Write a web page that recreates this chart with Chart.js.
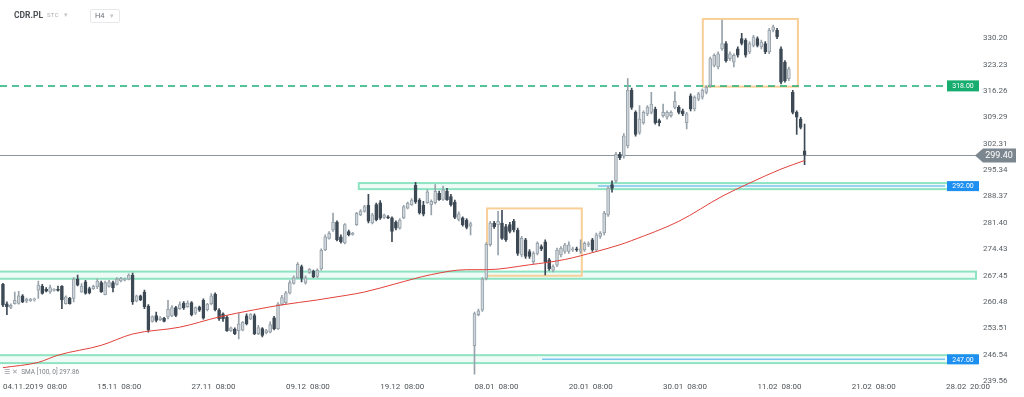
<!DOCTYPE html>
<html>
<head>
<meta charset="utf-8">
<script src="https://cdn.jsdelivr.net/npm/chart.js@4.4.1/dist/chart.umd.min.js"></script>
<style>
  html, body { margin: 0; padding: 0; background: #fff; }
  #wrap { position: relative; width: 1024px; height: 397px; font-family: Roboto, 'Noto Sans', sans-serif; overflow: hidden; }
  #chart { position: absolute; left: 0; top: 0; }
  .sym { position: absolute; left: 14px; top: 10px; font-size: 8.5px; font-weight: bold; color: #4b4f54; }
  .mkt { position: absolute; left: 47px; top: 11px; font-size: 6px; color: #a9adb1; letter-spacing: 0.3px; }
  .mkt span, .tf span { color: #c3c7cb; font-size: 7px; margin-left: 5px; }
  .tf { position: absolute; left: 90px; top: 9px; width: 24px; height: 12px; border: 1px solid #e6e8ea; border-radius: 2px;
        font-size: 7.5px; color: #6b7075; line-height: 12px; padding-left: 4px; box-sizing: content-box; }
  .sma { position: absolute; left: 4px; top: 368px; font-size: 6.5px; color: #7d8287; }
  .sma .ic { color: #9a9ea3; margin-right: 2px; }
</style>
</head>
<body>
<div id="wrap">
  <canvas id="chart" width="1024" height="397"></canvas>
  <div class="sym">CDR.PL</div>
  <div class="mkt">STC<span>▾</span></div>
  <div class="tf">H4<span>▾</span></div>
  <div class="sma"><span class="ic">☰ ✕</span> SMA [100, 0] 297.86</div>
</div>
<script>
// Świece H4 (open / high / low / close), indeks = numer świecy
const opens = [
  265.1, 260.0, 259.0, 260.0, 260.1, 262.1, 260.7, 260.8, 261.0, 263.6,
  264.7, 263.8, 263.1, 263.5, 263.8, 264.6, 260.0, 261.5, 261.4, 266.5,
  263.1, 265.8, 264.0, 264.0, 264.5, 265.6, 262.4, 264.6, 265.6, 265.1,
  266.0, 266.2, 266.5, 267.6, 260.7, 262.1, 263.1, 259.4, 255.3, 256.9,
  255.8, 256.2, 256.5, 256.8, 259.0, 258.7, 260.2, 259.2, 260.3, 257.5,
  259.1, 260.9, 258.4, 260.0, 262.5, 258.3, 257.3, 256.4, 252.9, 253.3,
  252.9, 253.0, 256.8, 256.0, 256.9, 252.1, 253.4, 252.3, 252.5, 256.3,
  253.4, 259.8, 260.3, 262.8, 265.4, 266.9, 269.8, 265.5, 268.3, 268.6,
  267.2, 269.2, 274.2, 277.3, 279.5, 281.6, 277.7, 276.1, 279.1, 278.3,
  280.9, 283.5, 284.4, 286.0, 281.4, 286.2, 286.7, 282.8, 283.0, 282.7,
  281.6, 280.0, 282.7, 285.3, 286.2, 291.3, 287.4, 286.0, 286.7, 286.2,
  286.7, 289.2, 287.6, 289.7, 288.3, 286.9, 282.3, 282.7, 282.1, 280.5,
  248.9, 257.1, 258.3, 266.7, 275.6, 281.3, 280.9, 281.3, 280.4, 280.9,
  281.8, 279.5, 272.9, 276.9, 273.8, 271.1, 273.3, 275.1, 276.4, 271.6,
  268.9, 270.2, 272.9, 273.8, 273.8, 274.2, 274.5, 273.8, 274.2, 275.6,
  276.9, 274.2, 277.8, 278.7, 283.5, 291.5, 292.4, 299.5, 299.0, 301.7,
  316.4, 310.6, 305.3, 307.9, 310.2, 310.6, 311.5, 308.4, 309.7, 309.3,
  309.7, 311.9, 311.9, 311.0, 307.9, 315.0, 311.5, 314.1, 314.6, 315.9,
  317.7, 323.0, 322.6, 327.4, 328.8, 324.8, 323.9, 327.4, 330.1, 329.7,
  326.6, 328.3, 330.1, 327.9, 328.8, 326.6, 332.3, 332.3, 327.4, 323.9,
  319.5, 315.9, 310.6, 308.8, 300.4
];
const highs = [
  265.4, 260.5, 260.0, 263.1, 263.3, 262.4, 261.5, 261.4, 261.5, 266.0,
  265.1, 264.3, 264.9, 264.0, 264.7, 264.8, 262.1, 261.7, 266.9, 267.6,
  265.3, 266.2, 264.4, 264.9, 266.5, 266.0, 266.0, 266.2, 266.0, 266.9,
  267.0, 266.8, 267.9, 268.1, 262.3, 262.3, 263.6, 259.8, 256.8, 257.8,
  256.6, 256.4, 260.9, 259.5, 259.3, 260.5, 260.6, 260.8, 260.6, 259.2,
  259.4, 261.3, 260.1, 262.7, 262.9, 258.7, 257.6, 256.9, 253.8, 253.6,
  257.4, 255.3, 257.3, 257.4, 257.3, 254.3, 253.7, 253.2, 255.2, 256.7,
  260.3, 262.2, 263.3, 266.1, 267.4, 270.9, 270.2, 267.4, 269.3, 268.9,
  269.2, 274.5, 278.2, 279.1, 284.0, 281.9, 278.2, 281.2, 279.5, 278.9,
  284.2, 284.9, 286.0, 288.9, 283.9, 286.6, 287.3, 283.7, 283.3, 283.0,
  281.9, 282.5, 286.0, 286.9, 287.8, 292.1, 287.8, 287.1, 290.1, 287.5,
  291.5, 289.8, 291.1, 290.5, 288.9, 287.4, 284.3, 283.0, 282.5, 281.6,
  257.8, 258.6, 266.9, 276.2, 281.8, 281.8, 284.4, 284.7, 281.0, 281.5,
  282.3, 280.0, 277.8, 277.3, 274.3, 273.8, 276.4, 275.6, 276.9, 272.0,
  270.3, 274.7, 275.1, 276.0, 276.4, 275.0, 275.0, 276.9, 276.4, 276.4,
  277.3, 278.7, 279.1, 284.4, 291.0, 292.5, 300.0, 300.0, 305.0, 319.5,
  317.0, 311.0, 312.4, 311.0, 312.4, 315.9, 312.0, 308.8, 312.8, 311.0,
  311.0, 316.0, 312.4, 311.5, 310.6, 315.5, 315.0, 315.9, 316.8, 317.7,
  325.2, 326.1, 326.6, 335.0, 329.3, 326.6, 326.1, 327.9, 331.5, 330.1,
  329.3, 331.0, 330.6, 329.7, 329.3, 332.8, 333.7, 332.8, 327.9, 324.3,
  322.6, 316.4, 311.0, 309.3, 307.5
];
const lows = [
  259.2, 257.1, 258.7, 259.9, 259.9, 260.3, 260.3, 260.6, 260.7, 261.4,
  262.5, 263.1, 262.7, 263.3, 263.3, 258.7, 259.9, 259.9, 260.5, 264.7,
  263.0, 262.5, 262.6, 263.8, 264.0, 263.0, 262.3, 264.4, 263.1, 264.9,
  265.8, 266.0, 266.3, 259.8, 260.5, 260.8, 258.7, 252.5, 255.1, 255.2,
  255.5, 255.2, 256.0, 256.6, 256.6, 258.5, 258.5, 259.0, 256.8, 257.2,
  258.0, 255.9, 258.1, 259.7, 258.1, 255.6, 255.3, 252.7, 252.7, 251.8,
  250.7, 252.8, 254.4, 255.8, 251.8, 251.8, 251.2, 252.0, 252.3, 253.1,
  253.2, 259.6, 260.0, 262.6, 265.2, 266.7, 265.8, 265.2, 268.0, 266.9,
  266.9, 268.9, 274.0, 277.1, 279.1, 276.6, 276.0, 275.8, 277.9, 278.1,
  280.7, 283.3, 284.2, 281.4, 281.1, 281.9, 282.3, 282.5, 282.5, 276.4,
  279.5, 279.7, 282.5, 285.1, 286.0, 286.5, 283.7, 283.2, 286.5, 283.5,
  286.4, 287.3, 287.3, 287.3, 285.8, 282.5, 281.9, 280.5, 279.8, 278.2,
  241.4, 256.8, 258.0, 266.3, 275.2, 279.9, 272.9, 277.0, 276.5, 278.7,
  279.0, 272.8, 272.4, 272.0, 272.0, 270.6, 272.9, 274.0, 267.6, 268.8,
  268.4, 269.8, 272.4, 273.3, 273.3, 273.8, 273.8, 273.3, 273.8, 275.1,
  273.8, 273.8, 277.3, 278.2, 283.1, 289.5, 292.0, 298.1, 298.5, 301.2,
  311.4, 304.3, 304.8, 307.5, 309.7, 310.2, 307.5, 307.0, 309.3, 308.8,
  309.3, 311.5, 310.2, 309.7, 306.2, 311.0, 311.0, 313.7, 314.1, 315.5,
  317.2, 322.6, 322.1, 327.0, 323.9, 324.3, 322.6, 325.2, 328.4, 325.2,
  326.1, 327.9, 327.9, 327.4, 326.1, 326.1, 331.9, 330.1, 318.1, 318.6,
  319.0, 310.2, 304.8, 306.2, 296.8
];
const closes = [
  259.6, 259.2, 259.6, 260.9, 262.1, 260.5, 261.2, 261.2, 261.3, 264.9,
  262.7, 263.3, 264.3, 263.8, 263.5, 261.0, 261.8, 260.0, 266.5, 264.9,
  264.7, 262.7, 262.9, 264.6, 266.0, 263.1, 265.6, 265.8, 264.2, 266.5,
  266.7, 266.5, 267.6, 260.5, 262.1, 261.0, 259.2, 253.0, 256.6, 255.6,
  256.3, 255.3, 258.5, 259.0, 256.9, 259.8, 258.9, 260.2, 257.1, 259.0,
  258.3, 256.2, 259.9, 262.1, 258.4, 256.0, 256.0, 252.9, 253.6, 252.1,
  254.7, 255.1, 254.7, 257.2, 252.1, 253.7, 251.6, 252.9, 254.5, 253.4,
  259.9, 261.6, 262.9, 265.6, 266.9, 270.4, 266.7, 266.9, 269.1, 267.1,
  268.8, 274.1, 277.7, 278.6, 281.6, 276.9, 276.4, 280.9, 278.2, 278.7,
  283.9, 284.5, 285.7, 281.8, 283.5, 282.2, 282.6, 283.5, 282.7, 279.1,
  280.0, 282.1, 285.7, 286.6, 287.4, 286.9, 284.1, 283.7, 289.6, 287.1,
  289.7, 287.5, 290.1, 287.5, 286.2, 282.8, 283.8, 280.9, 280.2, 281.2,
  257.4, 258.1, 266.5, 275.7, 281.3, 280.4, 281.8, 277.3, 276.9, 279.1,
  279.5, 273.3, 277.3, 272.5, 272.5, 273.3, 276.0, 274.5, 271.1, 269.3,
  269.8, 274.2, 274.7, 275.6, 275.6, 274.5, 274.2, 274.5, 276.0, 275.9,
  274.2, 278.2, 278.7, 284.0, 290.6, 290.5, 299.5, 298.6, 304.4, 316.4,
  311.9, 304.8, 308.8, 310.6, 312.0, 312.8, 307.9, 307.9, 310.6, 310.6,
  310.6, 313.5, 310.6, 310.2, 310.2, 311.5, 314.6, 315.5, 316.4, 317.2,
  324.8, 325.7, 326.1, 328.8, 324.3, 326.1, 325.7, 325.7, 328.8, 325.7,
  328.8, 330.5, 328.3, 329.2, 326.6, 332.3, 333.2, 330.6, 318.6, 319.0,
  322.1, 310.6, 309.3, 306.6, 299.4
];

const smaIdx = [0, 9, 14, 25, 33, 45, 55, 64, 71, 80, 83, 92, 100, 109, 118, 123, 134, 143, 151, 157, 160, 172, 183, 190, 198, 204];
const smaVal = [243.1, 244.5, 246.4, 249.0, 252.0, 253.8, 256.5, 258.4, 259.7, 261.0, 261.5, 263.1, 265.3, 267.7, 269.0, 269.0, 270.3, 271.7, 273.8, 275.6, 276.7, 281.8, 288.4, 291.9, 295.6, 297.86];

// Osie
const xTickIdx = [0, 24, 48, 72, 96, 120, 144, 168, 192, 216, 240];
const xTickText = ['04.11.2019  08:00', '15.11  08:00', '27.11  08:00', '09.12  08:00', '19.12  08:00',
  '08.01  08:00', '20.01  08:00', '30.01  08:00', '11.02  08:00', '21.02  08:00', '28.02  20:00'];
const yTickText = ['239.56', '246.54', '253.51', '260.48', '267.45', '274.43', '281.40',
  '288.37', '295.34', '302.31', '309.29', '316.26', '323.23', '330.20'];

// Strefy (dolna cena, górna cena, od świecy)
const zoneLow = [290.3, 266.6, 244.3];
const zoneHigh = [291.9, 268.5, 246.4];
const zoneFrom = [90.3, -1.5, -1.5];

// Prostokąty formacji (od, do, cena górna, cena dolna)
const boxFrom = [123.2, 178.1];
const boxTo = [147.3, 202.3];
const boxTop = [285.2, 335.3];
const boxBottom = [267.4, 317.4];

// Poziomy z etykietami
const blueLevels = [291.1, 245.3];
const blueFrom = [151.4, 137.2];
const blueText = ['292.00', '247.00'];
const resistLevel = 317.6;
const resistText = '318.00';
const lastPrice = 299.4;
const lastText = '299.40';

const UP_FILL = '#cfd5da', UP_LINE = '#97a2aa', DOWN = '#3d4a55';
const isUp = opens.map((o, i) => closes[i] >= o);

function labelBox(ctx, x, yc, w, h, color, text) {
  ctx.fillStyle = color;
  ctx.fillRect(x, yc - h / 2, w, h);
  ctx.fillStyle = '#fff';
  ctx.font = '7px Roboto, sans-serif';
  ctx.textAlign = 'center';
  ctx.textBaseline = 'middle';
  ctx.fillText(text, x + w / 2, yc + 0.5);
}

const overlay = {
  id: 'overlay',
  beforeDatasetsDraw(chart) {
    const { ctx, chartArea, scales: { x, y } } = chart;
    const right = chartArea.right - 3;
    const zoneRight = chartArea.right + 28;
    ctx.save();
    // strefy wsparcia / oporu
    zoneLow.forEach((lo, k) => {
      const x0 = x.getPixelForValue(zoneFrom[k]);
      const yt = y.getPixelForValue(zoneHigh[k]);
      const yb = y.getPixelForValue(lo);
      ctx.fillStyle = 'rgba(150, 228, 198, 0.15)';
      ctx.fillRect(x0, yt, zoneRight - x0, yb - yt);
      ctx.strokeStyle = '#8ee3c2';
      ctx.lineWidth = 2;
      ctx.strokeRect(x0 + 1, yt, zoneRight - x0 - 1, yb - yt);
    });
    // niebieskie poziomy
    blueLevels.forEach((lv, k) => {
      const yy = y.getPixelForValue(lv);
      ctx.strokeStyle = '#7cc3ef';
      ctx.lineWidth = 1.5;
      ctx.beginPath();
      ctx.moveTo(x.getPixelForValue(blueFrom[k]), yy);
      ctx.lineTo(right, yy);
      ctx.stroke();
    });
    // prostokąty
    ctx.strokeStyle = '#f9cf98';
    ctx.lineWidth = 2;
    boxFrom.forEach((b, k) => {
      const x0 = x.getPixelForValue(b), x1 = x.getPixelForValue(boxTo[k]);
      const y0 = y.getPixelForValue(boxTop[k]), y1 = y.getPixelForValue(boxBottom[k]);
      ctx.strokeRect(x0, y0, x1 - x0, y1 - y0);
    });
    // linia ostatniej ceny
    const yl = Math.round(y.getPixelForValue(lastPrice)) + 0.5;
    ctx.strokeStyle = '#8d969d';
    ctx.lineWidth = 1;
    ctx.beginPath();
    ctx.moveTo(0, yl);
    ctx.lineTo(976, yl);
    ctx.stroke();
    // opór przerywany
    const yr = y.getPixelForValue(resistLevel);
    ctx.strokeStyle = '#1fae78';
    ctx.lineWidth = 1.5;
    ctx.setLineDash([7, 5]);
    ctx.beginPath();
    ctx.moveTo(0, yr);
    ctx.lineTo(right, yr);
    ctx.stroke();
    ctx.setLineDash([]);
    ctx.restore();
  },
  afterDraw(chart) {
    const { ctx, chartArea, scales: { y } } = chart;
    const bx = chartArea.right - 1;
    ctx.save();
    labelBox(ctx, bx, y.getPixelForValue(resistLevel), 32, 11, '#16ad6f', resistText);
    blueLevels.forEach((lv, k) => labelBox(ctx, bx, y.getPixelForValue(lv), 32, 10, '#1c8ff0', blueText[k]));
    // strzałka ostatniej ceny
    const yl = Math.round(y.getPixelForValue(lastPrice)) + 0.5;
    ctx.fillStyle = '#7b868f';
    ctx.beginPath();
    ctx.moveTo(975, yl);
    ctx.lineTo(983, yl - 7);
    ctx.lineTo(1016, yl - 7);
    ctx.lineTo(1016, yl + 7);
    ctx.lineTo(983, yl + 7);
    ctx.closePath();
    ctx.fill();
    ctx.fillStyle = '#fff';
    ctx.font = '9px Roboto, sans-serif';
    ctx.textAlign = 'center';
    ctx.textBaseline = 'middle';
    ctx.fillText(lastText, 999, yl + 0.5);
    ctx.restore();
  }
};

const chart = new Chart(document.getElementById('chart'), {
  type: 'bar',
  data: {
    datasets: [
      {
        type: 'line',
        data: smaIdx.map((v, i) => ({ x: v, y: smaVal[i] })),
        borderColor: '#e2413b',
        borderWidth: 1,
        pointRadius: 0,
        cubicInterpolationMode: 'monotone',
        order: 0
      },
      {
        data: opens.map((o, i) => ({ x: i, y: [o, closes[i]] })),
        backgroundColor: isUp.map(u => u ? UP_FILL : DOWN),
        borderColor: isUp.map(u => u ? UP_LINE : DOWN),
        borderWidth: 1,
        borderSkipped: false,
        barThickness: 3,
        grouped: false,
        order: 1
      },
      {
        data: lows.map((l, i) => ({ x: i, y: [l, highs[i]] })),
        backgroundColor: isUp.map(u => u ? UP_LINE : DOWN),
        borderWidth: 0,
        barThickness: 1,
        grouped: false,
        order: 2
      }
    ]
  },
  options: {
    responsive: false,
    animation: false,
    events: [],
    layout: { padding: { left: 1, right: 0, top: 0, bottom: 5 } },
    plugins: { legend: { display: false }, tooltip: { enabled: false } },
    scales: {
      x: {
        type: 'linear',
        offset: false,
        min: -0.5,
        max: 240.5,
        border: { display: false },
        grid: { display: false, drawTicks: false },
        afterBuildTicks: s => { s.ticks = xTickIdx.map(v => ({ value: v })); },
        afterFit: s => { s.paddingLeft = 0; s.paddingRight = 0; },
        ticks: {
          align: 'start',
          autoSkip: false,
          maxRotation: 0,
          minRotation: 0,
          padding: 0,
          color: '#4f5458',
          font: { family: 'Roboto', size: 8 },
          callback: v => xTickText[xTickIdx.indexOf(v)]
        }
      },
      y: {
        position: 'right',
        min: 239.2,
        max: 340.31,
        border: { display: false },
        grid: { display: false, drawTicks: false },
        afterBuildTicks: s => { s.ticks = yTickText.map(t => ({ value: parseFloat(t) })); },
        afterFit: s => { s.width = 76; s.paddingTop = 0; s.paddingBottom = 0; },
        ticks: {
          padding: 35,
          color: '#5b6166',
          font: { family: 'Roboto', size: 8 },
          callback: (v, i) => yTickText[i]
        }
      }
    }
  },
  plugins: [overlay]
});
</script>
</body>
</html>
